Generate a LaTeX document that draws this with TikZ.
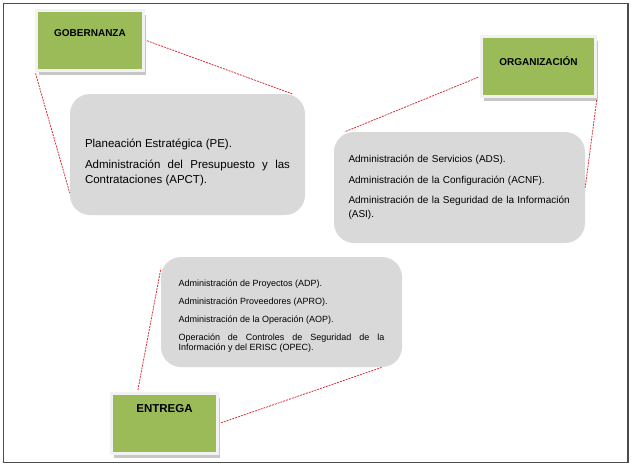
\documentclass[tikz,border=0pt]{standalone}
\usepackage{fontspec}
\setmainfont{Liberation Sans}
\usepackage{xcolor}
\usetikzlibrary{positioning, shadows}
\hyphenpenalty=10000
\exhyphenpenalty=10000

\definecolor{titlegreen}{HTML}{9BBB59}
\definecolor{boxgray}{HTML}{D9D9D9}
\definecolor{linkred}{HTML}{D8303A}

\begin{document}
\begin{tikzpicture}[
    x=1pt, y=-1pt,
    title/.style={rectangle, draw=gray!10, line width=3pt, fill=titlegreen, minimum height=60pt, inner sep=0pt,
        font=\bfseries\fontsize{10}{12}\selectfont, text height=7.2pt,
        drop shadow={shadow xshift=2pt, shadow yshift=-4.5pt, fill=black!22, opacity=1}},
    group/.style={rectangle, rounded corners=20pt, fill=boxgray, inner sep=0pt},
    link/.style={draw=linkred, line width=0.8pt, dash pattern=on 2pt off 1pt, shorten <=2pt}
]
\useasboundingbox (0,0) rectangle (632,466);

% frame
\draw[line width=1.3pt, draw=black!70] (3.5,3.5) rectangle (628,462.5);

% Gobernanza
\node[title, minimum width=107pt, text depth=14.5pt] (gob) at (90,40) {GOBERNANZA};
\node[group, minimum width=235pt, minimum height=121pt, text width=205pt, align=justify,
      font=\fontsize{11.5}{15}\selectfont] (gobbox) at (187.5,154.5)
    {\rule{0pt}{24.5pt}Planeación Estratégica (PE).\\[6pt]
     Administración del Presupuesto y las Contrataciones (APCT).};

% Organizacion
\node[title, minimum width=114pt, text depth=9.5pt] (org) at (538.5,66.5) {ORGANIZACIÓN};
\node[group, minimum width=251pt, minimum height=111pt, text width=222pt, align=left,
      font=\fontsize{10}{14}\selectfont] (orgbox) at (459.5,187.5)
    {Administración de Servicios (ADS).\\[7pt]
     Administración de la Configuración (ACNF).\\[6pt]
     Administración de la Seguridad de la Información\\(ASI).};

% Entrega
\node[title, minimum width=106pt, font=\bfseries\fontsize{11.5}{13}\selectfont,
      text height=8.2pt, text depth=31pt] (ent) at (164.5,423.5) {ENTREGA};
\node[group, minimum width=241pt, minimum height=110pt, text width=206pt, align=justify,
      font=\fontsize{9}{10}\selectfont] (entbox) at (281.5,312)
    {\rule{0pt}{14pt}Administración de Proyectos (ADP).\\[8pt]
     Administración Proveedores (APRO).\\[8pt]
     Administración de la Operación (AOP).\\[8pt]
     Operación de Controles de Seguridad de la Información y del ERISC (OPEC).};

% Links
\draw[link] (gob.east) -- ([xshift=-13pt]gobbox.north east);
\draw[link] (gob.south west) -- ([yshift=22pt]gobbox.south west);
\draw[link] ([yshift=-10pt]org.west) -- ([xshift=11pt]orgbox.north west);
\draw[link] (org.south east) -- (orgbox.east);
\draw[link] ([xshift=-27pt]ent.north) -- ([yshift=-12pt]entbox.north west);
\draw[link] (ent.east) -- ([xshift=-20pt]entbox.south east);

\end{tikzpicture}
\end{document}
